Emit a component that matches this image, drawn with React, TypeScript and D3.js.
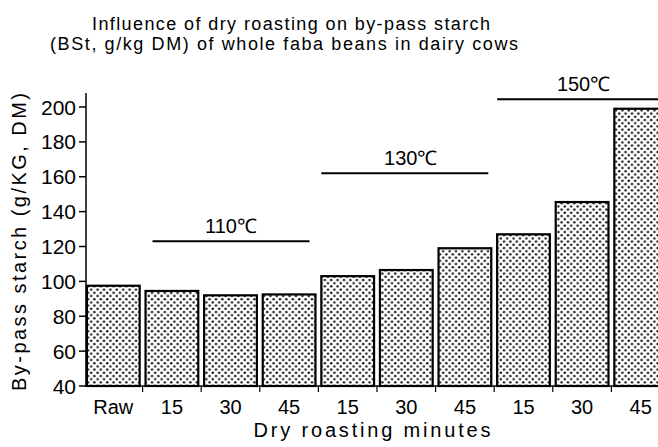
import React from 'react';
import * as d3 from 'd3';

const categories = ['Raw', '15', '30', '45', '15', '30', '45', '15', '30', '45'];
const starch = [97.5, 94.5, 92, 92.5, 103, 106.5, 119, 127, 145.5, 199];
const yTicks = [40, 60, 80, 100, 120, 140, 160, 180, 200];

// temperature groups: first/last bar index, line level (g/kg) and label
const groupLabels = ['110℃', '130℃', '150℃'];
const groupFirst = [1, 4, 7];
const groupLast = [3, 6, 9];
const groupLevel = [123, 162, 204.5];

const W = 658;
const H = 447;
const font = '"Liberation Sans", Arial, sans-serif';

const App: React.FC = () => {
  const left = 86;
  const bottom = 386;

  const x = d3
    .scaleBand<number>()
    .domain(d3.range(categories.length))
    .range([84, 670])
    .paddingInner(0.1)
    .paddingOuter(0.05);

  const y = d3.scaleLinear().domain([40, 200]).range([bottom, 107]);
  const gap = x.step() - x.bandwidth();

  return (
    <svg
      width={W}
      height={H}
      style={{ position: 'absolute', left: 0, top: 0, background: '#fff' }}
      fontFamily={font}
    >
      <defs>
        <pattern id="dots" width={6.4} height={6.4} patternUnits="userSpaceOnUse">
          <rect width={6.4} height={6.4} fill="#fff" />
          <circle cx={1.6} cy={1.6} r={1.25} fill="#111" />
          <circle cx={4.8} cy={4.8} r={1.25} fill="#111" />
        </pattern>
        <clipPath id="clip">
          <rect x={0} y={0} width={W} height={H} />
        </clipPath>
      </defs>

      <text x={291} y={29.5} fontSize={18} textAnchor="middle" textLength={398} lengthAdjust="spacing">
        Influence of dry roasting on by-pass starch
      </text>
      <text x={284} y={49.5} fontSize={18} textAnchor="middle" textLength={468} lengthAdjust="spacing">
        (BSt, g/kg DM) of whole faba beans in dairy cows
      </text>

      <g clipPath="url(#clip)">
        {starch.map((v, i) => (
          <rect
            key={i}
            x={x(i)}
            y={y(v)}
            width={x.bandwidth()}
            height={bottom - y(v)}
            fill="url(#dots)"
            stroke="#000"
            strokeWidth={2.2}
          />
        ))}
      </g>

      {/* axes */}
      <line x1={left} x2={left} y1={93} y2={bottom + 1} stroke="#000" strokeWidth={1.5} />
      <line x1={left} x2={W} y1={bottom} y2={bottom} stroke="#000" strokeWidth={1.5} />
      {yTicks.map((t) => (
        <g key={t}>
          <line x1={left - 7} x2={left} y1={y(t)} y2={y(t)} stroke="#000" strokeWidth={1.5} />
          <text x={76} y={y(t) + 7.5} fontSize={21} textAnchor="end">
            {t}
          </text>
        </g>
      ))}
      {categories.map((c, i) => (
        <g key={i}>
          {i > 0 && (
            <line
              x1={x(i)! - gap / 2}
              x2={x(i)! - gap / 2}
              y1={bottom}
              y2={bottom + 6}
              stroke="#000"
              strokeWidth={1.2}
            />
          )}
          <text x={x(i)! + x.bandwidth() / 2} y={414} fontSize={20} textAnchor="middle">
            {c}
          </text>
        </g>
      ))}

      {/* temperature group markers */}
      {groupLabels.map((g, k) => {
        const x1 = x(groupFirst[k])! + (k === 0 ? 7 : 0);
        const x2 = Math.min(x(groupLast[k])! + x.bandwidth() - (k === 0 ? 6 : 3), W);
        const ly = y(groupLevel[k]);
        return (
          <g key={g}>
            <line x1={x1} x2={x2} y1={ly} y2={ly} stroke="#000" strokeWidth={2} />
            <text x={(x1 + x2) / 2 + (k === 0 ? 0 : 6)} y={ly - 8} fontSize={20} textAnchor="middle">
              {g}
            </text>
          </g>
        );
      })}

      <text x={372} y={437} fontSize={20} textAnchor="middle" textLength={237} lengthAdjust="spacing">
        Dry roasting minutes
      </text>
      <text
        transform="translate(26,242) rotate(-90)"
        fontSize={20}
        textAnchor="middle"
        textLength={298}
        lengthAdjust="spacing"
      >
        By-pass starch (g/KG, DM)
      </text>
    </svg>
  );
};

export default App;
